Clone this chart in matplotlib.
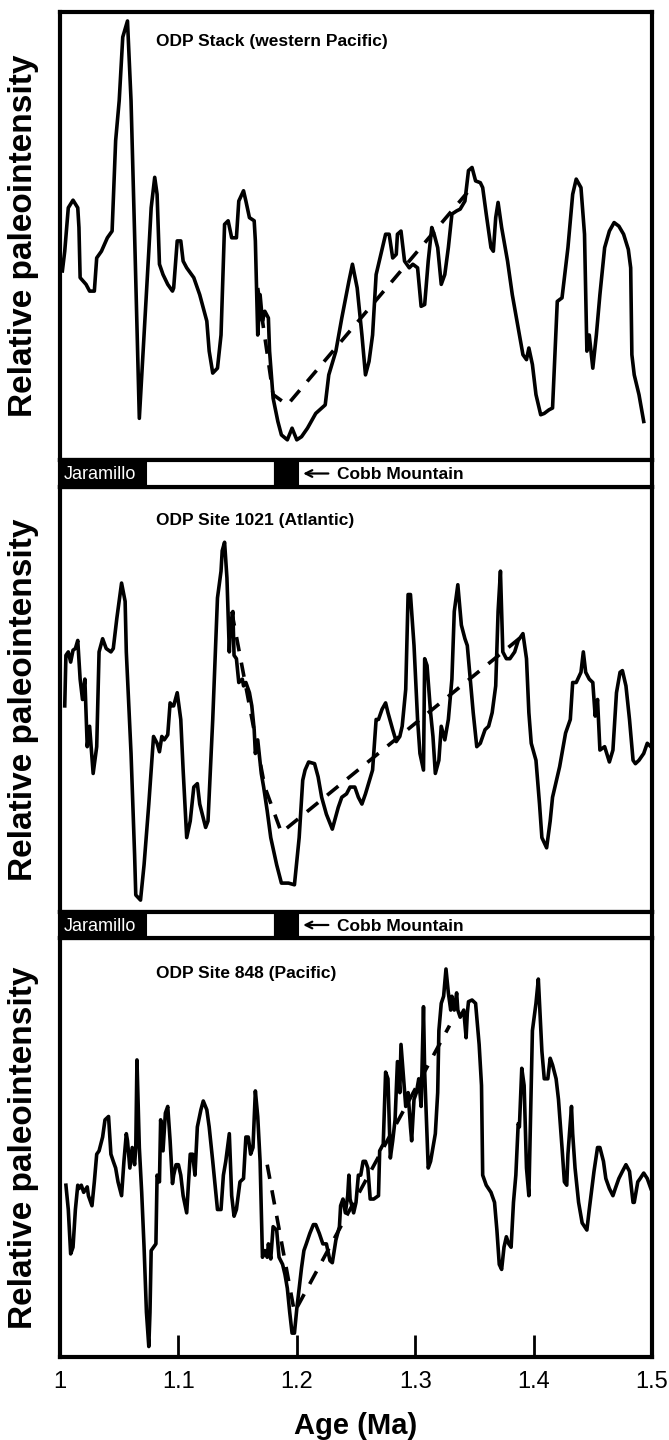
import matplotlib.pyplot as plt

plt.rcParams['font.family'] = ['Liberation Sans', 'DejaVu Sans']

# ---- ODP Stack (western Pacific) ----
stack_age = [1.002, 1.004, 1.007, 1.011, 1.015, 1.016, 1.017, 1.022, 1.025, 1.029, 1.031, 1.035, 1.040, 1.044,
             1.045, 1.047, 1.050, 1.053, 1.057, 1.060, 1.063, 1.067, 1.071, 1.075, 1.077, 1.080, 1.082, 1.084,
             1.087, 1.091, 1.095, 1.096, 1.099, 1.102, 1.104, 1.107, 1.113, 1.118, 1.124, 1.126, 1.129, 1.133,
             1.136, 1.139, 1.142, 1.145, 1.149, 1.151, 1.155, 1.157, 1.160, 1.164, 1.165, 1.167, 1.169, 1.171,
             1.173, 1.176, 1.177, 1.180, 1.184, 1.187, 1.192, 1.196, 1.200, 1.204, 1.209, 1.216, 1.224, 1.227,
             1.233, 1.238, 1.244, 1.247, 1.251, 1.255, 1.258, 1.261, 1.264, 1.267, 1.271, 1.275, 1.278, 1.281,
             1.284, 1.285, 1.288, 1.291, 1.295, 1.298, 1.302, 1.305, 1.308, 1.311, 1.314, 1.316, 1.319, 1.322,
             1.325, 1.328, 1.331, 1.335, 1.338, 1.342, 1.345, 1.348, 1.351, 1.355, 1.357, 1.360, 1.364, 1.366,
             1.368, 1.370, 1.373, 1.378, 1.382, 1.387, 1.391, 1.394, 1.396, 1.399, 1.402, 1.406, 1.409, 1.413,
             1.416, 1.420, 1.424, 1.429, 1.433, 1.436, 1.440, 1.443, 1.445, 1.447, 1.450, 1.453, 1.456, 1.460,
             1.464, 1.468, 1.472, 1.476, 1.480, 1.482, 1.483, 1.485, 1.489, 1.493]
stack_int = [42.2, 46.6, 56.3, 58.0, 56.3, 51.9, 40.7, 39.2, 37.7, 37.7, 45.1, 46.6, 49.6, 51.1,
             57.8, 71.3, 80.2, 94.4, 98.0, 80.2, 50.4, 9.3, 27.9, 46.6, 56.3, 63.1, 59.3, 43.7,
             41.4, 39.2, 37.7, 38.4, 48.9, 48.9, 44.4, 42.9, 40.7, 36.9, 31.0, 24.3, 19.4, 20.5,
             27.9, 52.6, 53.4, 49.6, 49.6, 57.8, 60.1, 57.8, 54.1, 53.4, 48.9, 27.9, 36.9, 31.0,
             33.2, 31.7, 24.3, 13.8, 8.6, 5.6, 4.5, 7.1, 4.5, 5.2, 7.1, 10.4, 12.3, 19.0,
             24.3, 31.7, 39.9, 43.7, 38.4, 27.9, 19.0, 22.0, 27.9, 41.4, 45.9, 50.4, 50.4, 45.1,
             45.9, 50.4, 51.1, 44.4, 42.9, 43.7, 42.9, 34.3, 34.7, 44.4, 51.9, 50.4, 47.4, 39.2,
             41.4, 47.4, 54.9, 55.6, 56.0, 57.8, 64.6, 65.3, 62.3, 61.9, 60.8, 54.9, 47.4, 46.6,
             54.1, 57.5, 51.9, 44.4, 36.9, 29.5, 23.5, 22.4, 25.0, 21.3, 14.6, 10.1, 10.4, 11.2,
             11.6, 35.4, 36.2, 47.4, 59.3, 62.7, 60.8, 50.4, 24.3, 27.9, 20.5, 27.9, 36.9, 47.4,
             51.1, 53.0, 52.2, 50.4, 47.0, 42.9, 23.5, 19.0, 14.6, 8.6]
stack_trend_age = [1.167, 1.180, 1.192, 1.344]
stack_trend_int = [38.4, 14.6, 12.3, 59.7]

# ---- ODP Site 1021 (Atlantic) ----
s1021_age = [1.004, 1.005, 1.007, 1.009, 1.011, 1.013, 1.015, 1.017, 1.019, 1.021, 1.023, 1.025, 1.028, 1.031,
             1.033, 1.036, 1.039, 1.043, 1.045, 1.048, 1.052, 1.055, 1.056, 1.060, 1.063, 1.064, 1.068, 1.071,
             1.075, 1.079, 1.082, 1.084, 1.086, 1.088, 1.091, 1.093, 1.095, 1.096, 1.099, 1.102, 1.104, 1.107,
             1.110, 1.113, 1.116, 1.118, 1.123, 1.125, 1.129, 1.133, 1.136, 1.137, 1.139, 1.141, 1.143, 1.144,
             1.146, 1.147, 1.149, 1.151, 1.154, 1.155, 1.157, 1.160, 1.162, 1.164, 1.165, 1.167, 1.170, 1.172,
             1.175, 1.178, 1.183, 1.187, 1.193, 1.198, 1.202, 1.205, 1.207, 1.210, 1.215, 1.218, 1.221, 1.225,
             1.230, 1.235, 1.238, 1.242, 1.245, 1.249, 1.252, 1.255, 1.258, 1.264, 1.267, 1.269, 1.272, 1.275,
             1.277, 1.281, 1.284, 1.287, 1.289, 1.292, 1.294, 1.296, 1.299, 1.302, 1.304, 1.307, 1.308, 1.310,
             1.313, 1.315, 1.317, 1.320, 1.322, 1.325, 1.328, 1.331, 1.333, 1.336, 1.339, 1.342, 1.344, 1.347,
             1.349, 1.352, 1.355, 1.359, 1.362, 1.365, 1.368, 1.370, 1.372, 1.374, 1.377, 1.380, 1.384, 1.387,
             1.391, 1.394, 1.396, 1.398, 1.402, 1.405, 1.407, 1.411, 1.414, 1.416, 1.418, 1.422, 1.427, 1.431,
             1.433, 1.436, 1.440, 1.442, 1.444, 1.447, 1.450, 1.452, 1.454, 1.456, 1.460, 1.464, 1.467, 1.470,
             1.473, 1.475, 1.478, 1.481, 1.484, 1.486, 1.489, 1.493, 1.496, 1.499]
s1021_int = [48.5, 60.4, 61.2, 58.8, 61.6, 62.0, 63.9, 54.8, 50.0, 54.8, 38.9, 43.7, 32.6, 38.9,
             61.2, 64.3, 62.0, 61.2, 62.0, 69.1, 77.4, 73.1, 61.2, 37.3, 13.5, 4.0, 2.8, 11.1,
             25.4, 41.3, 39.7, 37.7, 41.3, 40.5, 41.7, 49.2, 48.5, 48.5, 51.6, 45.3, 33.4, 17.5,
             21.4, 29.4, 30.2, 25.4, 19.9, 21.4, 45.3, 73.9, 80.2, 85.0, 87.0, 78.6, 61.2, 67.5,
             70.7, 60.4, 59.6, 54.0, 54.8, 53.2, 54.0, 51.6, 48.5, 42.9, 37.3, 40.5, 32.6, 29.4,
             23.8, 17.5, 11.1, 6.8, 6.8, 6.4, 17.5, 31.0, 33.4, 35.3, 34.9, 31.8, 27.0, 23.0,
             19.5, 24.6, 27.0, 27.8, 29.4, 29.4, 27.0, 25.4, 27.8, 33.4, 45.3, 45.3, 47.7, 49.2,
             46.9, 42.9, 40.1, 41.3, 43.7, 52.4, 74.7, 74.7, 62.7, 45.3, 37.3, 33.4, 59.6, 58.0,
             46.9, 41.3, 32.6, 35.7, 43.7, 40.5, 45.3, 54.8, 70.7, 77.0, 67.5, 64.3, 62.7, 53.2,
             46.9, 38.9, 39.7, 42.9, 43.7, 46.9, 53.2, 70.7, 80.2, 61.2, 59.6, 59.6, 61.2, 63.9,
             65.5, 59.6, 46.9, 39.7, 35.7, 25.4, 17.5, 15.1, 21.4, 27.0, 29.4, 34.2, 42.1, 45.3,
             54.0, 54.0, 56.4, 61.2, 56.4, 54.8, 54.0, 46.1, 50.0, 38.1, 38.9, 35.3, 38.1, 51.6,
             56.4, 56.8, 53.2, 45.3, 35.7, 34.9, 35.7, 37.3, 39.7, 38.9]
s1021_trend_age = [1.145, 1.173, 1.187, 1.393]
s1021_trend_int = [70.7, 29.4, 18.7, 65.5]

# ---- ODP Site 848 (Pacific) ----
s848_age = [1.005, 1.007, 1.009, 1.011, 1.013, 1.015, 1.016, 1.018, 1.020, 1.023, 1.024, 1.027, 1.029, 1.031,
            1.033, 1.036, 1.038, 1.041, 1.043, 1.045, 1.047, 1.049, 1.052, 1.054, 1.056, 1.057, 1.059, 1.061,
            1.063, 1.064, 1.065, 1.067, 1.069, 1.071, 1.073, 1.075, 1.076, 1.077, 1.079, 1.081, 1.082, 1.084,
            1.085, 1.087, 1.089, 1.091, 1.093, 1.095, 1.096, 1.098, 1.100, 1.102, 1.104, 1.107, 1.110, 1.112,
            1.114, 1.116, 1.119, 1.121, 1.124, 1.126, 1.129, 1.133, 1.136, 1.138, 1.140, 1.143, 1.145, 1.147,
            1.149, 1.152, 1.155, 1.157, 1.159, 1.161, 1.163, 1.165, 1.167, 1.169, 1.171, 1.173, 1.175, 1.176,
            1.178, 1.180, 1.183, 1.185, 1.188, 1.190, 1.192, 1.194, 1.196, 1.198, 1.200, 1.202, 1.204, 1.206,
            1.208, 1.211, 1.214, 1.216, 1.219, 1.222, 1.225, 1.228, 1.230, 1.233, 1.236, 1.237, 1.239, 1.241,
            1.243, 1.244, 1.245, 1.248, 1.250, 1.252, 1.254, 1.256, 1.258, 1.260, 1.262, 1.265, 1.269, 1.270,
            1.273, 1.275, 1.277, 1.279, 1.281, 1.283, 1.285, 1.287, 1.288, 1.290, 1.292, 1.294, 1.296, 1.297,
            1.299, 1.301, 1.303, 1.305, 1.307, 1.308, 1.311, 1.313, 1.315, 1.317, 1.319, 1.320, 1.322, 1.324,
            1.326, 1.328, 1.330, 1.331, 1.333, 1.335, 1.336, 1.338, 1.341, 1.343, 1.344, 1.345, 1.348, 1.351,
            1.354, 1.356, 1.357, 1.360, 1.364, 1.367, 1.369, 1.371, 1.373, 1.375, 1.377, 1.379, 1.381, 1.383,
            1.385, 1.387, 1.388, 1.390, 1.392, 1.394, 1.396, 1.397, 1.399, 1.402, 1.404, 1.405, 1.407, 1.409,
            1.412, 1.414, 1.416, 1.419, 1.421, 1.424, 1.426, 1.428, 1.429, 1.432, 1.433, 1.435, 1.438, 1.441,
            1.445, 1.447, 1.451, 1.454, 1.456, 1.459, 1.461, 1.464, 1.467, 1.469, 1.472, 1.475, 1.478, 1.481,
            1.484, 1.485, 1.488, 1.490, 1.493, 1.496, 1.499]
s848_int = [41.0, 35.2, 24.6, 26.2, 35.2, 41.0, 40.2, 41.0, 39.3, 40.6, 38.5, 36.1, 41.8, 48.4,
            49.2, 52.5, 56.6, 57.4, 48.4, 46.7, 45.1, 41.8, 38.5, 46.7, 53.3, 51.6, 45.1, 50.0,
            45.9, 50.0, 70.9, 50.0, 39.3, 26.2, 10.7, 2.5, 10.7, 25.4, 26.2, 27.0, 43.4, 41.8,
            56.6, 49.2, 58.2, 59.8, 51.6, 41.4, 43.4, 45.9, 45.9, 43.4, 38.5, 34.4, 48.4, 48.4,
            43.4, 54.9, 59.0, 61.1, 59.0, 54.9, 46.7, 35.2, 35.2, 43.4, 46.7, 53.3, 38.5, 33.6,
            35.2, 41.8, 42.6, 52.5, 52.5, 48.4, 50.0, 63.5, 57.4, 46.7, 23.8, 25.4, 23.8, 27.0,
            23.4, 31.1, 30.3, 23.8, 22.1, 19.7, 16.4, 10.7, 5.7, 5.7, 11.5, 16.4, 21.3, 25.4,
            27.0, 29.5, 31.6, 31.6, 29.5, 27.0, 27.0, 23.0, 22.5, 27.9, 31.1, 36.1, 37.7, 34.4,
            38.5, 43.4, 37.7, 34.4, 36.9, 43.4, 43.4, 46.7, 46.7, 45.1, 37.7, 37.7, 38.5, 49.2,
            50.8, 68.0, 66.4, 47.5, 51.6, 56.6, 70.5, 63.1, 74.6, 67.2, 59.8, 63.1, 54.9, 51.6,
            61.5, 63.1, 66.4, 59.8, 83.6, 68.0, 45.1, 46.7, 50.0, 53.3, 63.1, 77.9, 84.4, 86.1,
            92.6, 86.9, 82.8, 86.1, 82.8, 86.9, 82.8, 81.1, 82.8, 76.2, 82.0, 84.8, 85.2, 84.4,
            74.6, 64.8, 43.4, 41.0, 39.3, 36.9, 30.3, 22.1, 20.9, 26.2, 28.7, 27.0, 26.2, 36.9,
            43.4, 55.7, 54.9, 68.9, 64.8, 45.1, 38.5, 51.6, 77.9, 84.4, 90.2, 84.4, 73.0, 66.4,
            66.4, 71.3, 69.7, 66.4, 61.5, 50.0, 41.8, 41.0, 48.4, 59.8, 53.3, 45.1, 36.9, 32.0,
            30.3, 35.2, 44.3, 50.0, 50.0, 46.7, 42.6, 40.2, 38.5, 40.2, 42.6, 44.3, 45.9, 44.3,
            36.9, 36.9, 41.8, 42.6, 43.9, 42.6, 40.2]
s848_trend_age = [1.175, 1.198, 1.329]
s848_trend_int = [45.9, 10.7, 79.1]

panel_titles = ['ODP Stack (western Pacific)', 'ODP Site 1021 (Atlantic)', 'ODP Site 848 (Pacific)']

# polarity: Jaramillo (normal), reversed, Cobb Mountain (normal), reversed
polarity_edges = [1.0, 1.073, 1.182, 1.201, 1.5]
polarity_normal = [True, False, True, False]

age_ticks = [1.0, 1.1, 1.2, 1.3, 1.4, 1.5]
age_labels = ['1', '1.1', '1.2', '1.3', '1.4', '1.5']

W_PX, H_PX = 669, 1440
fig = plt.figure(figsize=(W_PX / 100, H_PX / 100), dpi=100)

left = 60 / W_PX
width = 592 / W_PX


def add_box(top_px, bot_px):
    return fig.add_axes([left, 1 - bot_px / H_PX, width, (bot_px - top_px) / H_PX])


panels = [(12, 460), (487, 912), (938, 1357)]
bars = [(460, 487), (912, 938)]
series = [(stack_age, stack_int, stack_trend_age, stack_trend_int),
          (s1021_age, s1021_int, s1021_trend_age, s1021_trend_int),
          (s848_age, s848_int, s848_trend_age, s848_trend_int)]
title_y = [0.935, 0.92, 0.915]

for i, (top, bot) in enumerate(panels):
    ax = add_box(top, bot)
    age, val, tage, tval = series[i]
    ax.plot(age, val, color='black', lw=2.6, solid_joinstyle='round')
    ax.plot(tage, tval, color='black', lw=2.6, linestyle=(0, (4, 3.2)))
    ax.set_xlim(1.0, 1.5)
    ax.set_ylim(0, 100)
    ax.set_yticks([])
    for s in ax.spines.values():
        s.set_linewidth(3)
    ax.text(1.081, title_y[i], panel_titles[i], transform=ax.get_xaxis_transform(),
            fontsize=12.5, fontweight='bold', va='center', ha='left')
    fig.text(24 / W_PX, 1 - (top + bot) / 2 / H_PX, 'Relative paleointensity',
             rotation=90, fontsize=24, fontweight='bold', ha='center', va='center')
    if i == 2:
        ax.set_xticks(age_ticks)
        ax.set_xticklabels(age_labels, fontsize=17)
        ax.tick_params(axis='x', direction='in', length=16, width=2, pad=10)
        ax.set_xlabel('Age (Ma)', fontsize=21, fontweight='bold', labelpad=14)
    else:
        ax.set_xticks([])

for top, bot in bars:
    bx = add_box(top, bot)
    for a, b, normal in zip(polarity_edges[:-1], polarity_edges[1:], polarity_normal):
        bx.axvspan(a, b, ymin=0, ymax=1, facecolor='black' if normal else 'white',
                   edgecolor='black', lw=1.5)
    bx.set_xlim(1.0, 1.5)
    bx.set_ylim(0, 1)
    bx.set_xticks([])
    bx.set_yticks([])
    for s in bx.spines.values():
        s.set_linewidth(3)
    bx.text(1.003, 0.45, 'Jaramillo', color='white', fontsize=13, va='center', ha='left')
    bx.annotate('', xy=(1.203, 0.5), xytext=(1.229, 0.5),
                arrowprops=dict(arrowstyle='->', lw=1.6, color='black', mutation_scale=12))
    bx.text(1.234, 0.45, 'Cobb Mountain', color='black', fontsize=12.5,
            fontweight='bold', va='center', ha='left')

fig.savefig('out.png', dpi=100)
